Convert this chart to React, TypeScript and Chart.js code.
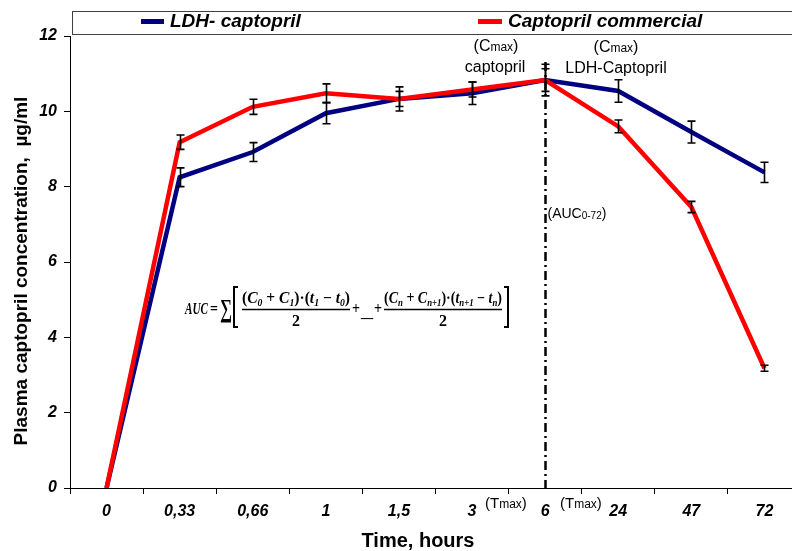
import { useEffect, useRef } from "react";
import { Chart, registerables } from "chart.js";

Chart.register(...registerables);

// Sampling times (hours) and mean plasma concentrations (µg/ml) with SD
const timeLabels = ["0", "0,33", "0,66", "1", "1,5", "3", "6", "24", "47", "72"];
const ldhCaptopril = [0, 8.25, 8.92, 9.95, 10.33, 10.48, 10.83, 10.54, 9.45, 8.38];
const ldhCaptoprilSd = [0, 0.25, 0.25, 0.28, 0.2, 0.3, 0.3, 0.3, 0.29, 0.27];
const captoprilCommercial = [0, 9.18, 10.12, 10.48, 10.33, 10.58, 10.83, 9.6, 7.46, 3.18];
const captoprilCommercialSd = [0, 0.19, 0.2, 0.25, 0.32, 0.2, 0.42, 0.17, 0.15, 0.08];
const yMin = 0;
const yMax = 12;
const yStep = 2;
const tmaxIndex = 6;

const BLUE = "#000080";
const RED = "#ff0000";
const SANS = '"Liberation Sans", Arial, sans-serif';
const SERIF = '"Liberation Serif", "Times New Roman", serif';

const CANVAS_W = 830;
const CANVAS_H = 551;

type Run = { t: string; font: string; dy?: number };

function runsWidth(ctx: CanvasRenderingContext2D, runs: Run[]) {
  let w = 0;
  for (const r of runs) {
    ctx.font = r.font;
    w += ctx.measureText(r.t).width;
  }
  return w;
}

function drawRuns(ctx: CanvasRenderingContext2D, x: number, y: number, runs: Run[]) {
  ctx.textAlign = "left";
  ctx.textBaseline = "alphabetic";
  for (const r of runs) {
    ctx.font = r.font;
    ctx.fillText(r.t, x, y + (r.dy || 0));
    x += ctx.measureText(r.t).width;
  }
  return x;
}

function drawRunsCentered(ctx: CanvasRenderingContext2D, cx: number, y: number, runs: Run[]) {
  const w = runsWidth(ctx, runs);
  drawRuns(ctx, cx - w / 2, y, runs);
}

// Draws runs squeezed or stretched horizontally to span x0..x1
function drawRunsFit(ctx: CanvasRenderingContext2D, x0: number, x1: number, y: number, runs: Run[]) {
  const w = runsWidth(ctx, runs);
  ctx.save();
  ctx.translate(x0, y);
  ctx.scale((x1 - x0) / w, 1);
  drawRuns(ctx, 0, 0, runs);
  ctx.restore();
}

const sans = (size: number) => `${size}px ${SANS}`;
const mi = (size: number) => `italic bold ${size}px ${SERIF}`;
const mb = (size: number) => `bold ${size}px ${SERIF}`;

function cmax(): Run[] {
  return [
    { t: "(C", font: sans(16) },
    { t: "max", font: sans(12) },
    { t: ")", font: sans(16) },
  ];
}

function tmax(): Run[] {
  return [
    { t: "(T", font: sans(15) },
    { t: "max", font: sans(12) },
    { t: ")", font: sans(15) },
  ];
}

function numerator(a: string, b: string, c: string, d: string): Run[] {
  const M = mi(16);
  const S = mi(10);
  const O = mb(16);
  return [
    { t: "(", font: O },
    { t: "C", font: M },
    { t: a, font: S, dy: 3 },
    { t: " + ", font: O },
    { t: "C", font: M },
    { t: b, font: S, dy: 3 },
    { t: ")\u00b7(", font: O },
    { t: "t", font: M },
    { t: c, font: S, dy: 3 },
    { t: " \u2212 ", font: O },
    { t: "t", font: M },
    { t: d, font: S, dy: 3 },
    { t: ")", font: O },
  ];
}

function drawFraction(ctx: CanvasRenderingContext2D, x0: number, x1: number, axisY: number, num: Run[]) {
  drawRunsFit(ctx, x0, x1, axisY - 6, num);
  ctx.beginPath();
  ctx.moveTo(x0, axisY + 0.5);
  ctx.lineTo(x1, axisY + 0.5);
  ctx.lineWidth = 1.3;
  ctx.strokeStyle = "#000";
  ctx.stroke();
  drawRunsCentered(ctx, (x0 + x1) / 2, axisY + 17, [{ t: "2", font: mb(16) }]);
}

function drawBracket(ctx: CanvasRenderingContext2D, x: number, top: number, bottom: number, dir: number) {
  ctx.beginPath();
  ctx.moveTo(x + dir * 4, top);
  ctx.lineTo(x, top);
  ctx.lineTo(x, bottom);
  ctx.lineTo(x + dir * 4, bottom);
  ctx.lineWidth = 2;
  ctx.strokeStyle = "#000";
  ctx.stroke();
}

const decorations = {
  id: "decorations",
  afterDatasetsDraw(chart: any) {
    const ctx: CanvasRenderingContext2D = chart.ctx;
    const xs = chart.scales.x;
    const ys = chart.scales.y;
    const area = chart.chartArea;
    ctx.save();

    // Tmax / AUC marker line
    const tx = Math.round(xs.getPixelForValue(tmaxIndex)) + 0.5;
    ctx.beginPath();
    ctx.setLineDash([9, 4, 2, 4]);
    ctx.moveTo(tx, area.top + 26);
    ctx.lineTo(tx, area.bottom);
    ctx.lineWidth = 2.5;
    ctx.strokeStyle = "#000";
    ctx.stroke();
    ctx.setLineDash([]);

    // SD error bars
    const bars = (vals: number[], sds: number[]) => {
      vals.forEach((v, i) => {
        const sd = sds[i];
        if (!sd) return;
        const x = Math.round(xs.getPixelForValue(i)) + 0.5;
        const yTop = ys.getPixelForValue(v + sd);
        const yBot = ys.getPixelForValue(v - sd);
        ctx.beginPath();
        ctx.moveTo(x, yTop);
        ctx.lineTo(x, yBot);
        ctx.moveTo(x - 4, yTop);
        ctx.lineTo(x + 4, yTop);
        ctx.moveTo(x - 4, yBot);
        ctx.lineTo(x + 4, yBot);
        ctx.lineWidth = 1.6;
        ctx.strokeStyle = "#000";
        ctx.stroke();
      });
    };
    bars(ldhCaptopril, ldhCaptoprilSd);
    bars(captoprilCommercial, captoprilCommercialSd);

    ctx.fillStyle = "#000";

    // Peak annotations
    drawRunsCentered(ctx, 496, 51, cmax());
    drawRunsCentered(ctx, 495, 72, [{ t: "captopril", font: sans(16) }]);
    drawRunsCentered(ctx, 616, 52, cmax());
    drawRunsCentered(ctx, 616, 73, [{ t: "LDH-Captopril", font: sans(16) }]);

    drawRuns(ctx, tx + 2, 218, [
      { t: "(AUC", font: sans(14) },
      { t: "0-72", font: sans(10), dy: 1 },
      { t: ")", font: sans(14) },
    ]);

    drawRuns(ctx, 485, 508, tmax());
    drawRuns(ctx, 560, 508, tmax());

    // Trapezoidal AUC formula
    const axisY = 309;
    drawRunsFit(ctx, 185, 208, axisY + 5, [{ t: "AUC", font: mi(17) }]);
    drawRunsFit(ctx, 210, 218, axisY + 5, [{ t: "=", font: mb(16) }]);
    drawRunsFit(ctx, 220, 232, axisY + 8, [{ t: "\u2211", font: mb(26) }]);
    drawBracket(ctx, 234, 287, 327, 1);
    drawFraction(ctx, 242, 350, axisY, numerator("0", "1", "1", "0"));
    drawRunsFit(ctx, 352, 360, axisY + 5, [{ t: "+", font: mb(16) }]);
    drawRunsFit(ctx, 361, 373, axisY + 8, [{ t: "_", font: mb(14) }]);
    drawRunsFit(ctx, 374, 382, axisY + 5, [{ t: "+", font: mb(16) }]);
    drawFraction(ctx, 384, 502, axisY, numerator("n", "n+1", "n+1", "n"));
    drawBracket(ctx, 508, 287, 327, -1);

    // Legend box
    ctx.fillStyle = "#fff";
    ctx.fillRect(72, 11, CANVAS_W, 24);
    ctx.strokeStyle = "#404040";
    ctx.lineWidth = 1;
    ctx.strokeRect(72.5, 11.5, CANVAS_W, 23);
    ctx.fillStyle = BLUE;
    ctx.fillRect(141, 19, 23, 5);
    ctx.fillStyle = RED;
    ctx.fillRect(478, 19, 24, 5);
    ctx.fillStyle = "#000";
    ctx.textBaseline = "middle";
    ctx.textAlign = "left";
    ctx.font = `italic bold 19px ${SANS}`;
    ctx.fillText("LDH- captopril", 170, 22);
    ctx.fillText("Captopril commercial", 508, 22);

    // Axis titles
    ctx.textAlign = "center";
    ctx.textBaseline = "middle";
    ctx.font = `bold 20px ${SANS}`;
    ctx.fillText("Time, hours", 418, 541);
    ctx.font = `bold 19px ${SANS}`;
    ctx.save();
    ctx.translate(22, 271);
    ctx.rotate(-Math.PI / 2);
    ctx.fillText("Plasma captopril concentration,  \u00b5g/ml", 0, 0);
    ctx.restore();

    ctx.restore();
  },
};

export default function App() {
  const canvasRef = useRef<HTMLCanvasElement | null>(null);

  useEffect(() => {
    const canvas = canvasRef.current;
    if (!canvas) return;
    const tickFont = { family: SANS, size: 16, style: "italic" as const, weight: "bold" as const };
    const chart = new Chart(canvas, {
      type: "line",
      data: {
        labels: timeLabels,
        datasets: [
          {
            label: "LDH- captopril",
            data: ldhCaptopril,
            borderColor: BLUE,
            backgroundColor: BLUE,
            borderWidth: 4.5,
            pointRadius: 0,
            tension: 0,
            order: 2,
          },
          {
            label: "Captopril commercial",
            data: captoprilCommercial,
            borderColor: RED,
            backgroundColor: RED,
            borderWidth: 4.5,
            pointRadius: 0,
            tension: 0,
            order: 1,
          },
        ],
      },
      options: {
        animation: false,
        responsive: false,
        maintainAspectRatio: false,
        devicePixelRatio: 1,
        layout: { padding: { top: 36, right: CANVAS_W - 801, left: 0, bottom: 0 } },
        plugins: {
          legend: { display: false },
          tooltip: { enabled: false },
        },
        scales: {
          x: {
            type: "category",
            offset: true,
            grid: {
              display: true,
              offset: true,
              drawOnChartArea: false,
              drawTicks: true,
              tickLength: 6,
              color: "#000",
              lineWidth: 1,
            },
            border: { display: true, color: "#000", width: 1 },
            ticks: { color: "#000", font: tickFont, padding: 8, maxRotation: 0, autoSkip: false },
            afterFit: (s: any) => {
              s.height = CANVAS_H - 488;
            },
          },
          y: {
            min: yMin,
            max: yMax,
            grid: {
              display: true,
              drawOnChartArea: false,
              drawTicks: true,
              tickLength: 6,
              color: "#000",
              lineWidth: 1,
            },
            border: { display: true, color: "#000", width: 1 },
            ticks: { stepSize: yStep, color: "#000", font: tickFont, padding: 7 },
            afterFit: (s: any) => {
              s.width = 70;
            },
          },
        },
      },
      plugins: [decorations],
    });
    return () => chart.destroy();
  }, []);

  return (
    <div
      style={{
        position: "fixed",
        left: 0,
        top: 0,
        width: 792,
        height: CANVAS_H,
        overflow: "hidden",
        background: "#fff",
      }}
    >
      <canvas ref={canvasRef} width={CANVAS_W} height={CANVAS_H} style={{ display: "block" }} />
    </div>
  );
}
